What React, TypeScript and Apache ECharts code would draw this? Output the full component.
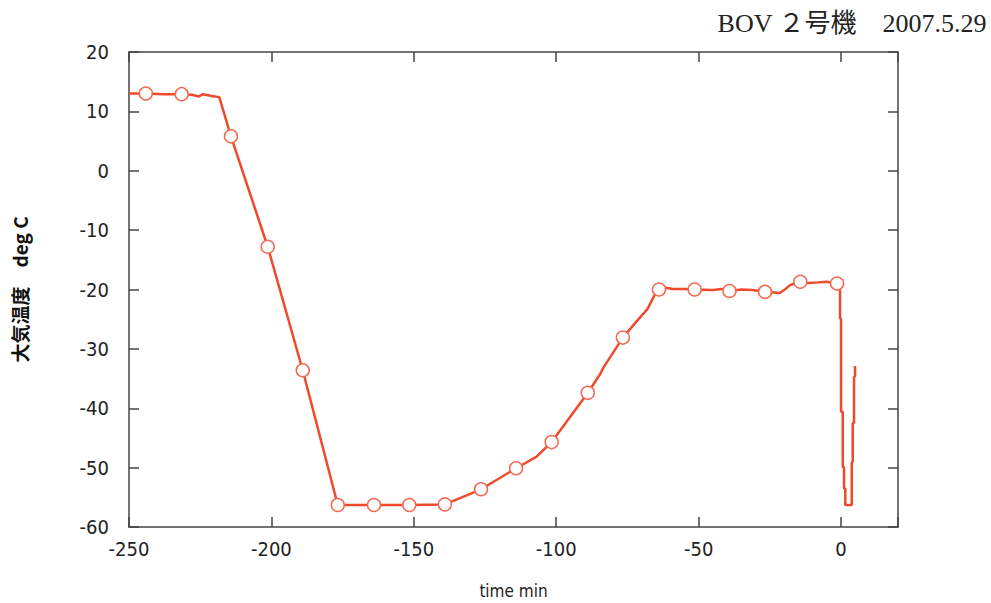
import React, { useEffect, useRef } from "react";
import * as echarts from "echarts";

const titleText = "BOV ２号機　2007.5.29";
const xAxisName = "time min";
const yAxisName = "大気温度　deg C";

const lineTime = [
  -250, -244.1, -238, -231.5, -228, -225.5, -224, -221, -218.3, -214.2, -201.3, -189.0, -176.7,
  -164.0, -151.6, -139.1, -126.4, -114.1, -107, -101.6, -95.2, -88.9, -84.5, -83.5, -76.6, -72,
  -68, -65.5, -63.9, -61.5, -59, -55, -51.4, -45, -42, -39.2, -35, -31, -26.7, -23.5, -21.5,
  -20, -18, -16, -14.3, -11.5, -8, -5, -3, -1.4, -0.35, -0.35, 0, 0, 0.6, 0.6, 1.05, 1.05, 1.5,
  1.5, 3.76, 3.76, 4.1, 4.1, 4.56, 4.56, 4.9, 4.9,
];
const lineTemp = [
  13.0, 13.0, 12.9, 12.9, 12.8, 12.5, 12.9, 12.6, 12.4, 5.8, -12.8, -33.6, -56.3,
  -56.3, -56.3, -56.2, -53.65, -50.1, -48.2, -45.7, -41.5, -37.4, -34.2, -33.2, -28.1, -25.5,
  -23.3, -21.0, -20.0, -19.7, -19.9, -19.9, -20.0, -20.1, -19.9, -20.25, -20.0, -20.1, -20.4, -20.5, -20.6,
  -20.1, -19.3, -18.9, -18.7, -18.9, -18.8, -18.7, -18.9, -19.0, -19.0, -24.9, -24.9, -40.6, -40.6, -49.9, -49.9, -53.5, -53.5,
  -56.3, -56.3, -49.1, -49.1, -42.5, -42.5, -34.7, -34.7, -32.9,
];

const markerTime = [
  -244.1, -231.5, -214.2, -201.3, -189.0, -176.7, -164.0, -151.6, -139.1, -126.4,
  -114.1, -101.6, -88.9, -76.6, -63.9, -51.4, -39.2, -26.7, -14.3, -1.4,
];
const markerTemp = [
  13.0, 12.9, 5.8, -12.8, -33.6, -56.3, -56.3, -56.3, -56.2, -53.65,
  -50.1, -45.7, -37.4, -28.1, -20.0, -20.0, -20.25, -20.4, -18.7, -19.0,
];

const xTicks = [-250, -200, -150, -100, -50, 0];
const yTicks = [20, 10, 0, -10, -20, -30, -40, -50, -60];

const LINE_COLOR = "#ef4a2c";
const AXIS_COLOR = "#444";
const LABEL_FONT = "'Liberation Sans Narrow', 'DejaVu Sans Condensed', 'DejaVu Sans', sans-serif";

export default function App() {
  const ref = useRef<HTMLDivElement>(null);
  useEffect(() => {
    if (!ref.current) return;
    const chart = echarts.init(ref.current, null, { renderer: "svg" });
    const axisLine = { show: true, onZero: false, lineStyle: { color: AXIS_COLOR, width: 1.5 } };
    const tickInside = { show: true, inside: true, length: 10, lineStyle: { color: AXIS_COLOR, width: 1.5 } };
    chart.setOption({
      animation: false,
      backgroundColor: "#ffffff",
      grid: { left: 129, width: 769, top: 52, height: 475, containLabel: false, outerBoundsMode: "none" },
      graphic: [
        {
          type: "text",
          right: 4,
          top: 10,
          style: {
            text: titleText,
            fill: "#222",
            font: "26px 'Liberation Serif', 'Noto Sans CJK JP', serif",
          },
        },
      ],
      xAxis: [
        {
          type: "value",
          min: -250,
          max: 20,
          interval: 50,
          position: "bottom",
          name: xAxisName,
          nameLocation: "middle",
          nameGap: 55,
          nameTextStyle: { fontFamily: LABEL_FONT, fontSize: 17, color: "#222" },
          axisLine,
          axisTick: tickInside,
          splitLine: { show: false },
          axisLabel: {
            margin: 12,
            fontFamily: LABEL_FONT,
            fontSize: 20,
            color: "#222",
            formatter: (v: number) => (xTicks.includes(v) ? String(v) : ""),
          },
        },
        {
          type: "value",
          min: -250,
          max: 20,
          interval: 50,
          position: "top",
          axisLine,
          axisTick: tickInside,
          splitLine: { show: false },
          axisLabel: { show: false },
        },
      ],
      yAxis: [
        {
          type: "value",
          min: -60,
          max: 20,
          interval: 10,
          position: "left",
          name: yAxisName,
          nameLocation: "middle",
          nameRotate: 90,
          nameGap: 100,
          nameTextStyle: { fontFamily: "'Noto Sans CJK JP', sans-serif", fontSize: 19, color: "#111", fontWeight: "bold" },
          axisLine,
          axisTick: tickInside,
          splitLine: { show: false },
          axisLabel: {
            margin: 20,
            fontFamily: LABEL_FONT,
            fontSize: 20,
            color: "#222",
            formatter: (v: number) => (yTicks.includes(v) ? String(v) : ""),
          },
        },
        {
          type: "value",
          min: -60,
          max: 20,
          interval: 10,
          position: "right",
          axisLine,
          axisTick: tickInside,
          splitLine: { show: false },
          axisLabel: { show: false },
        },
      ],
      series: [
        {
          type: "line",
          data: lineTime.map((t, i) => [t, lineTemp[i]]),
          showSymbol: false,
          symbol: "none",
          lineStyle: { color: LINE_COLOR, width: 2.5 },
          z: 2,
        },
        {
          type: "scatter",
          data: markerTime.map((t, i) => [t, markerTemp[i]]),
          symbol: "circle",
          symbolSize: 13,
          itemStyle: { color: "#ffffff", borderColor: "#f26a52", borderWidth: 1.5, opacity: 1 },
          z: 3,
        },
      ],
    });
    return () => chart.dispose();
  }, []);
  return <div ref={ref} style={{ position: "fixed", left: 0, top: 0, width: 991, height: 603 }} />;
}
